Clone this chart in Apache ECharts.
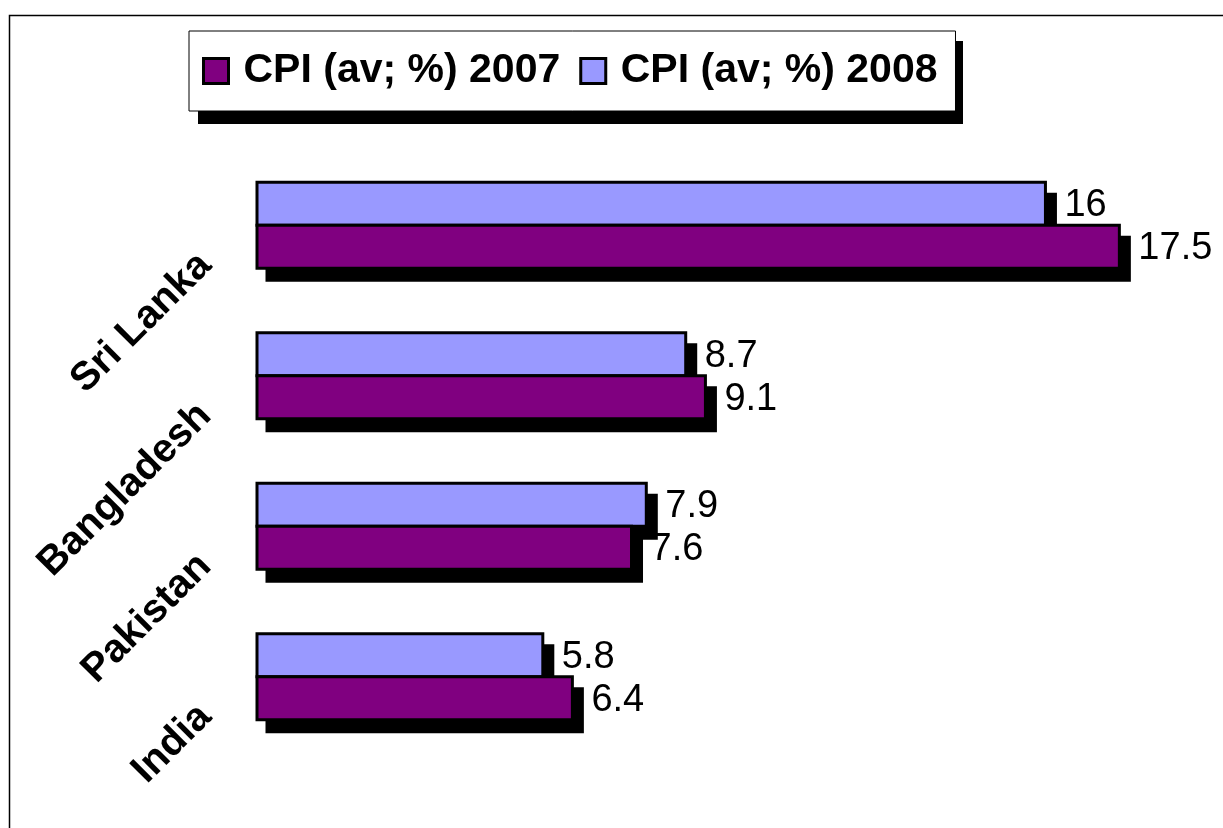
<!DOCTYPE html>
<html>
<head>
<meta charset="utf-8">
<script src="https://cdn.jsdelivr.net/npm/echarts@6/dist/echarts.min.js"></script>
<style>
  html, body { margin: 0; padding: 0; background: #fff; }
  #main { width: 1223px; height: 828px; }
</style>
</head>
<body>
<div id="main"></div>
<script>
var categories = ['India', 'Pakistan', 'Bangladesh', 'Sri Lanka'];
var cpi2007 = [6.4, 7.6, 9.1, 17.5];
var cpi2008 = [5.8, 7.9, 8.7, 16];
var seriesNames = ['CPI (av; %) 2007', 'CPI (av; %) 2008'];
var colors = ['#800080', '#9999FF'];

var font = 'Arial, "Liberation Sans", sans-serif';
var myChart = echarts.init(document.getElementById('main'));

// bar with hard black drop shadow; the 2008 bar sits above the band centre, 2007 below
function makeRender(color, onTop) {
    return function (params, api) {
        var v = api.value(0);
        var c = api.value(1);
        var p0 = api.coord([0, c]);
        var p1 = api.coord([v, c]);
        var band = api.size([0, 1])[1];
        var h = band * 0.285;
        var y0 = onTop ? p0[1] - h : p0[1];
        var w = p1[0] - p0[0];
        return {
            type: 'group',
            children: [{
                type: 'rect',
                shape: { x: p0[0] - 1.5 + 10, y: y0 - 1.5 + 12, width: w + 3, height: h + 3 },
                style: { fill: '#000' }
            }, {
                type: 'rect',
                shape: { x: p0[0], y: y0, width: w, height: h },
                style: { fill: color, stroke: '#000', lineWidth: 3 }
            }, {
                type: 'text',
                x: p1[0] + 19,
                y: y0 + h / 2 + 2,
                style: {
                    text: String(v),
                    fill: '#000',
                    font: '38px ' + font,
                    align: 'left',
                    verticalAlign: 'middle'
                }
            }]
        };
    };
}

function toPoints(arr) {
    return arr.map(function (v, i) { return [v, i]; });
}

myChart.setOption({
    animation: false,
    backgroundColor: '#fff',
    graphic: [{
        type: 'rect',
        shape: { x: 9.5, y: 15.5, width: 1300, height: 900 },
        style: { fill: 'none', stroke: '#000', lineWidth: 1.5 },
        silent: true,
        z: 0
    }, {
        // legend drop shadow
        type: 'rect',
        shape: { x: 198, y: 41, width: 765, height: 83 },
        style: { fill: '#000' },
        silent: true,
        z: 1
    }],
    legend: {
        data: seriesNames,
        icon: 'rect',
        left: 189,
        top: 31,
        orient: 'horizontal',
        padding: [18, 18, 18, 13],
        itemGap: 19,
        itemWidth: 25,
        itemHeight: 25,
        backgroundColor: '#fff',
        borderColor: '#000',
        borderWidth: 1,
        z: 5,
        itemStyle: {
            borderColor: '#000',
            borderWidth: 3
        },
        textStyle: {
            color: '#000',
            fontFamily: font,
            fontWeight: 'bold',
            fontSize: 41,
            lineHeight: 44,
            padding: [0, 0, 0, 10]
        }
    },
    grid: { left: 257, right: 79, top: 150, bottom: 76 },
    xAxis: {
        type: 'value',
        min: 0,
        max: 18,
        show: false
    },
    yAxis: {
        type: 'category',
        data: categories,
        axisLine: { show: false },
        axisTick: { show: false },
        splitLine: { show: false },
        axisLabel: {
            rotate: 45,
            margin: 18,
            align: 'right',
            verticalAlign: 'middle',
            padding: [96, 48, 0, 0],
            color: '#000',
            fontFamily: font,
            fontWeight: 'bold',
            fontSize: 40
        }
    },
    series: [{
        name: seriesNames[0],
        type: 'custom',
        data: toPoints(cpi2007),
        encode: { x: 0, y: 1 },
        z: 3,
        itemStyle: { color: colors[0] },
        renderItem: makeRender(colors[0], false)
    }, {
        name: seriesNames[1],
        type: 'custom',
        data: toPoints(cpi2008),
        encode: { x: 0, y: 1 },
        z: 2,
        itemStyle: { color: colors[1] },
        renderItem: makeRender(colors[1], true)
    }]
});
</script>
</body>
</html>
